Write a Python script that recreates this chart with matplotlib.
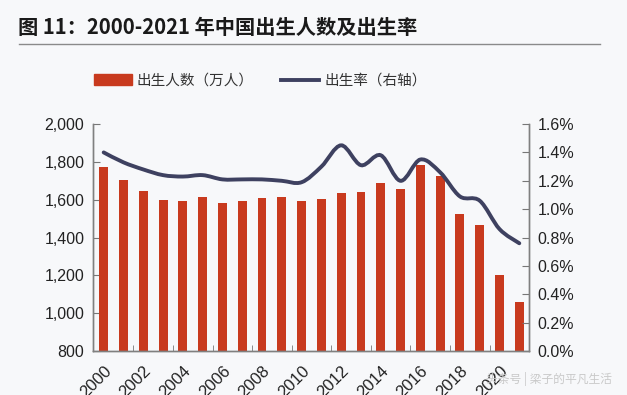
import numpy as np
import matplotlib.pyplot as plt
from matplotlib.path import Path
from matplotlib.patches import PathPatch, Patch
from matplotlib.lines import Line2D
from matplotlib.ticker import FuncFormatter

plt.rcParams['font.family'] = ['Liberation Sans', 'Noto Sans CJK SC', 'DejaVu Sans']

years = list(range(2000, 2022))
births = [1771, 1702, 1647, 1599, 1593, 1617, 1585, 1595, 1608, 1615, 1592,
          1604, 1635, 1640, 1687, 1655, 1786, 1723, 1523, 1465, 1202, 1062]  # 万人
rate = [1.40, 1.33, 1.28, 1.24, 1.23, 1.24, 1.21, 1.21, 1.21, 1.20, 1.19,
        1.30, 1.45, 1.31, 1.38, 1.20, 1.35, 1.26, 1.09, 1.06, 0.86, 0.76]  # %
tick_years = [str(y) for y in range(2000, 2021, 2)]

bar_color = '#c83a1e'
line_color = '#3e4160'
bg = '#f7f8fa'

fig = plt.figure(figsize=(6.27, 3.95), dpi=100)
fig.patch.set_facecolor(bg)
ax = fig.add_axes([0.148, 0.111, 0.696, 0.575])
ax.set_facecolor(bg)
ax2 = ax.twinx()

x = np.arange(len(years))
ax.bar(x, births, width=0.45, color=bar_color, zorder=2)
ax.set_ylim(800, 2000)
ax.set_yticks(range(800, 2001, 200))
ax.yaxis.set_major_formatter(FuncFormatter(lambda v, p: f'{int(v):,}'))
ax.set_xlim(-0.55, 21.5)
ax.set_xticks(x[::2])
ax.set_xticklabels(tick_years, rotation=45, ha='right', rotation_mode='anchor')
ax.set_xticks(np.arange(1.5, 21, 2), minor=True)
ax.tick_params(axis='x', which='major', length=0, labelsize=12, pad=9, colors='#222222')
ax.tick_params(axis='x', which='minor', length=4, direction='in', color='#777777')
ax.tick_params(axis='y', length=5, direction='in', labelsize=11.5, colors='#222222', pad=6)
ax.tick_params(axis='y', color='#777777')

# smoothed line drawn as bezier path (catmull-rom style control points)
pts = np.column_stack([x, rate])
verts = [tuple(pts[0])]
codes = [Path.MOVETO]
t = 1.0 / 6
for i in range(len(pts) - 1):
    p0 = pts[i - 1] if i > 0 else pts[i]
    p1 = pts[i]
    p2 = pts[i + 1]
    p3 = pts[i + 2] if i + 2 < len(pts) else pts[i + 1]
    c1 = p1 + (p2 - p0) * t
    c2 = p2 - (p3 - p1) * t
    verts += [tuple(c1), tuple(c2), tuple(p2)]
    codes += [Path.CURVE4] * 3
ax2.add_patch(PathPatch(Path(verts, codes), facecolor='none', edgecolor=line_color,
                        lw=2.8, capstyle='round', zorder=3))
ax2.set_ylim(0, 1.6)
ax2.set_yticks(np.arange(0, 1.61, 0.2))
ax2.yaxis.set_major_formatter(FuncFormatter(lambda v, p: f'{v:.1f}%'))
ax2.tick_params(axis='y', length=5, direction='in', labelsize=11.5, colors='#222222',
                color='#777777', pad=6)

for a in (ax, ax2):
    a.spines['top'].set_visible(False)
    for s in ('left', 'right', 'bottom'):
        a.spines[s].set_color('#808080')
        a.spines[s].set_linewidth(1.0)

# title and rule
fig.text(0.028, 0.93, '图 11：2000-2021 年中国出生人数及出生率', fontsize=14.6,
         fontweight='bold', family=['Noto Sans CJK SC', 'DejaVu Sans'], color='#1a1a1a',
         va='center')
fig.add_artist(Line2D([0.03, 0.957], [0.888, 0.888], color='#8a8a8a', lw=1.0))

# legend
handles = [Patch(facecolor=bar_color, edgecolor=bar_color),
           Line2D([0], [0], color=line_color, lw=2.8)]
leg = fig.legend(handles, ['出生人数（万人）', '出生率（右轴）'], loc='center',
                 bbox_to_anchor=(0.415, 0.795), ncol=2, frameon=False,
                 prop={'family': ['Noto Sans CJK SC', 'DejaVu Sans'], 'size': 10.5},
                 handlelength=2.6, handleheight=0.8, columnspacing=1.9, handletextpad=0.35)
for txt in leg.get_texts():
    txt.set_color('#333333')

fig.text(0.775, 0.04, '头条号 | 梁子的平凡生活', fontsize=8.5, color='#c9c9c9',
         family=['Noto Sans CJK SC', 'DejaVu Sans'], va='center')

fig.savefig('out.png', dpi=100, facecolor=bg)
